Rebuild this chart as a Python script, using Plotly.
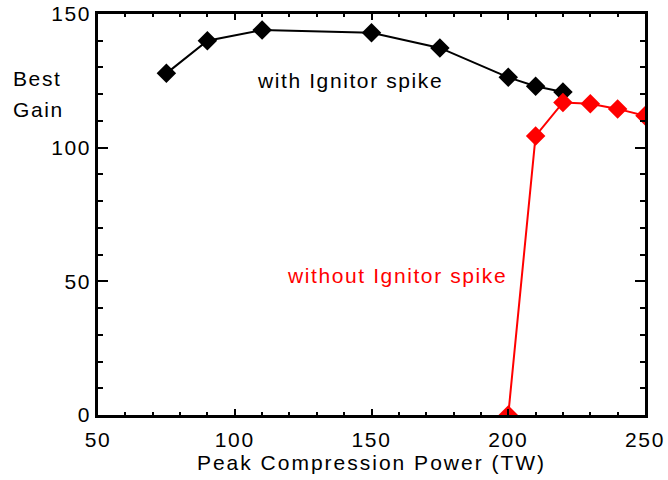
import plotly.graph_objects as go

with_x = [75, 90, 110, 150, 175, 200, 210, 220]
with_y = [127.8, 140.0, 144.0, 143.0, 137.3, 126.3, 123.0, 120.8]
without_x = [200, 210, 220, 230, 240, 250]
without_y = [0, 104.4, 116.9, 116.4, 114.5, 111.9]
xticks = [50, 100, 150, 200, 250]
yticks = [0, 50, 100, 150]

FONT = "Liberation Sans, Arial, sans-serif"


def sp(text, ls):
    return '<span style="letter-spacing:%spx">%s</span>' % (ls, text)


fig = go.Figure()
fig.add_trace(go.Scatter(x=with_x, y=with_y, mode="lines+markers",
                         line=dict(color="black", width=2),
                         marker=dict(symbol="diamond", size=15, color="black"),
                         cliponaxis=True, showlegend=False))
fig.add_trace(go.Scatter(x=without_x, y=without_y, mode="lines+markers",
                         line=dict(color="#ff0000", width=2),
                         marker=dict(symbol="diamond", size=15, color="#ff0000"),
                         cliponaxis=True, showlegend=False))

tickfont = dict(family=FONT, size=21, color="black")

fig.update_xaxes(range=[50, 250], tickvals=xticks, ticktext=[sp(str(v), 1.6) for v in xticks],
                 showgrid=False, zeroline=False, showline=True, linecolor="black", linewidth=2.5,
                 ticks="inside", ticklen=6, tickwidth=2, tickcolor="black", mirror="ticks",
                 tickfont=tickfont, automargin=False, ticklabelstandoff=4,
                 minor=dict(dtick=10, ticks="inside", ticklen=3, tickwidth=2, tickcolor="black", showgrid=False),
                 title=dict(text=sp("Peak Compression Power (TW)", 2.0),
                            font=dict(family=FONT, size=21, color="black"), standoff=2))
fig.update_yaxes(range=[0, 150], tickvals=yticks, ticktext=[sp(str(v), 1.6) for v in yticks],
                 showgrid=False, zeroline=False, showline=True, linecolor="black", linewidth=2.5,
                 ticks="inside", ticklen=10, tickwidth=2, tickcolor="black", mirror="ticks",
                 tickfont=tickfont, automargin=False,
                 minor=dict(dtick=10, ticks="inside", ticklen=5, tickwidth=2, tickcolor="black", showgrid=False))

fig.add_annotation(text=sp("with Ignitor spike", 1.6), x=142.3, y=125, xref="x", yref="y",
                   showarrow=False, font=dict(family=FONT, size=21, color="black"))
fig.add_annotation(text=sp("without Ignitor spike", 1.6), x=159.3, y=52, xref="x", yref="y",
                   showarrow=False, font=dict(family=FONT, size=21, color="#ff0000"))
fig.add_annotation(text=sp("Best", 1.6), x=-0.1554, y=0.872, xref="paper", yref="paper",
                   showarrow=False, xanchor="left", xshift=-2,
                   font=dict(family=FONT, size=21, color="black"))
fig.add_annotation(text=sp("Gain", 1.6), x=-0.1554, y=0.796, xref="paper", yref="paper",
                   showarrow=False, xanchor="left", xshift=-2,
                   font=dict(family=FONT, size=21, color="black"))

fig.update_layout(width=668, height=480, margin=dict(l=98, r=23, t=14, b=65),
                  plot_bgcolor="white", paper_bgcolor="white")

fig.write_html("out.html")
